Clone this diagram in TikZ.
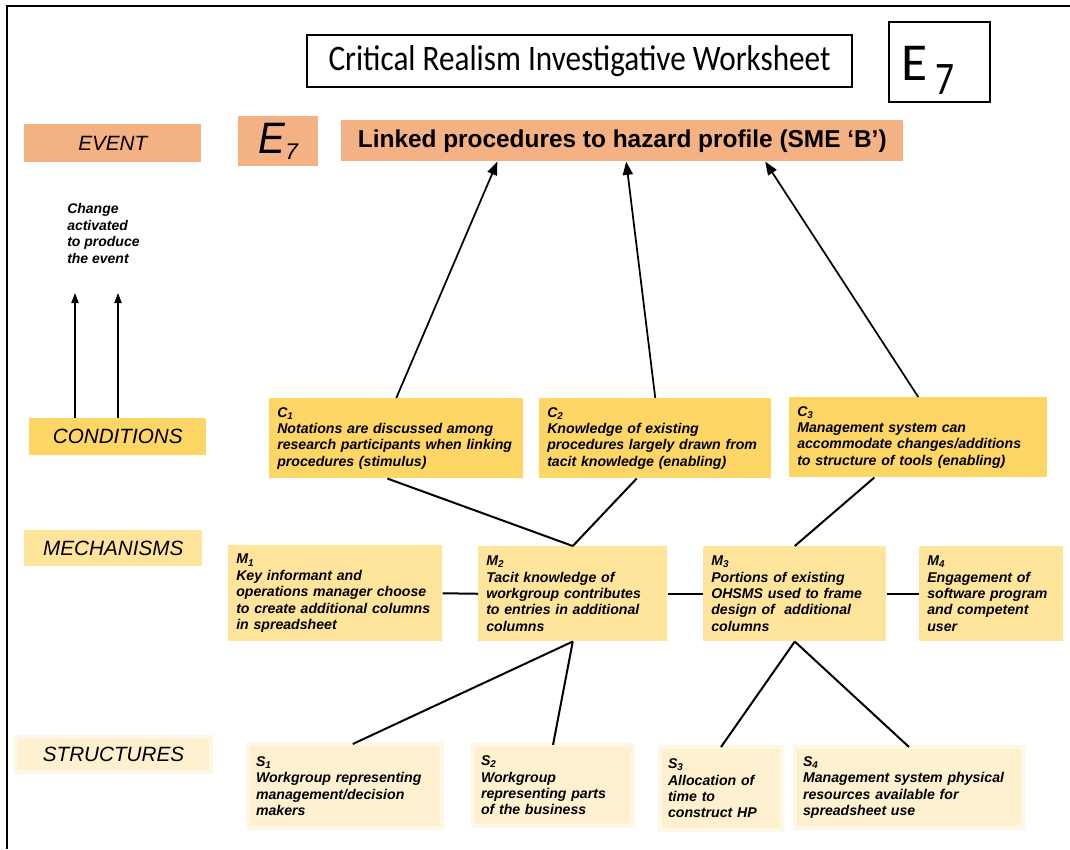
\documentclass[tikz,border=0pt]{standalone}
\usepackage{fontspec}
\usepackage{graphicx}
\setmainfont{Liberation Sans}
\newfontfamily\calib{Carlito}
\usetikzlibrary{calc,arrows.meta}
\definecolor{evorange}{RGB}{244,177,131}
\definecolor{condyel}{RGB}{254,214,102}
\definecolor{mechyel}{RGB}{255,229,155}
\definecolor{strucyel}{RGB}{255,241,208}
\newcommand\bx[7]{%
  \pgfmathsetmacro\bxw{#4*0.75-12}%
  \node[txtbox,fill=#6,minimum width=#4*0.75pt,minimum height=#5*0.75pt,text width=\bxw pt,anchor=north west] (#1) at (#2,#3) {#7};}
\tikzset{
  txtbox/.style={font=\fontsize{10.6}{12.3}\selectfont\bfseries\itshape, align=left, inner xsep=6pt, inner ysep=2pt},
  catlbl/.style={font=\fontsize{15.5}{18}\selectfont\itshape, inner sep=0pt},
  fuzzy/.style={draw=strucyel!55!white, line width=2.5pt, outer sep=0pt},
  conn/.style={line width=1.5pt, black},
  arr/.style={line width=1.3pt, black, -{Triangle[length=10pt,width=7.5pt]}},
  sarr/.style={line width=0.8pt, black, -{Triangle[length=7.5pt,width=5.5pt]}},
  framebox/.style={draw=black, line width=1.5pt, inner sep=0pt, anchor=north west}
}
\begin{document}
\begin{tikzpicture}[x=0.75pt,y=-0.75pt]
\useasboundingbox (0,0) rectangle (1070,849);
\fill[white] (0,0) rectangle (1070,849);
% outer frame
\draw[line width=1.6pt] (7,849) -- (7,6) -- (1070,6);

% title
\node[framebox,minimum width=545*0.75pt,minimum height=52*0.75pt,font=\calib\fontsize{23.4}{26}\selectfont] (title) at (306,34) {\scalebox{1}[1.15]{Critical Realism Investigative Worksheet}\hspace{6pt}};
\node[framebox,inner xsep=9pt,inner ysep=0pt,text width=57pt,text height=44pt,text depth=16pt,align=left,minimum width=101*0.75pt,minimum height=80*0.75pt,font=\calib\fontsize{40}{40}\selectfont] (bige) at (888,21) {E\hspace{6pt}\raisebox{-10pt}{\scalebox{1}[1.25]{\fontsize{28}{28}\selectfont 7}}};

% category labels
\node[catlbl,fill=evorange,minimum width=177*0.75pt,minimum height=38*0.75pt,anchor=north west] (evlbl) at (24,124) {EVENT};
\node[catlbl,fill=condyel,minimum width=177*0.75pt,minimum height=37*0.75pt,anchor=north west] (condlbl) at (29,418) {CONDITIONS};
\node[catlbl,fill=mechyel,minimum width=178*0.75pt,minimum height=36*0.75pt,anchor=north west] (mechlbl) at (24,530) {MECHANISMS};
\node[catlbl,fuzzy,fill=strucyel,minimum width=195*0.75pt,minimum height=35*0.75pt,anchor=north west] (struclbl) at (16,737) {STRUCTURES};

% event
\node[fill=evorange,inner sep=0pt,minimum width=80*0.75pt,minimum height=50*0.75pt,anchor=north west,font=\fontsize{30}{30}\selectfont\itshape] (esmall) at (238,116) {\scalebox{1}[1.1]{E}\raisebox{-5pt}{\fontsize{17}{17}\selectfont 7}\hspace{7pt}};
\node[fill=evorange,inner sep=0pt,minimum width=562*0.75pt,minimum height=41*0.75pt,anchor=north west,font=\fontsize{18.3}{20}\selectfont\bfseries] (ev) at (341,120) {Linked procedures to hazard profile (SME ‘B’)\hspace{5pt}};

% change note
\node[anchor=north west,inner sep=0pt,align=left,font=\fontsize{10.5}{12.5}\selectfont\bfseries\itshape] (note) at (67,203) {Change\\activated\\to produce\\the event};
\coordinate (up1) at (75,293);
\coordinate (up2) at (118,293);
\draw[sarr] (condlbl.north -| up1) -- (up1);
\draw[sarr] (condlbl.north -| up2) -- (up2);

% conditions
\bx{c1}{269}{398}{254}{80}{condyel}{C\textsubscript{1}\\Notations are discussed among\\research participants when linking\\procedures (stimulus)}
\bx{c2}{539}{398}{232}{80}{condyel}{C\textsubscript{2}\\Knowledge of existing\\procedures largely drawn from\\tacit knowledge (enabling)}
\bx{c3}{789}{397}{258}{80}{condyel}{C\textsubscript{3}\\Management system can\\accommodate changes/additions\\to structure of tools (enabling)}

% mechanisms
\bx{m1}{228}{545}{214}{96}{mechyel}{M\textsubscript{1}\\Key informant and\\operations manager choose\\to create additional columns\\in spreadsheet}
\bx{m2}{478}{546}{189}{95}{mechyel}{M\textsubscript{2}\\Tacit knowledge of\\workgroup contributes\\to entries in additional\\columns}
\bx{m3}{703}{546}{183}{95}{mechyel}{M\textsubscript{3}\\Portions of existing\\OHSMS used to frame\\design of \ additional\\columns}
\bx{m4}{919}{546}{144}{95}{mechyel}{M\textsubscript{4}\\Engagement of\\software program\\and competent\\user}

% structures
\bx{s1}{248}{744}{194}{84}{strucyel,fuzzy}{S\textsubscript{1}\\Workgroup representing\\management/decision\\makers}
\bx{s2}{473}{745}{160}{81}{strucyel,fuzzy}{S\textsubscript{2}\\Workgroup\\representing parts\\of the business}
\bx{s3}{660}{747}{122}{83}{strucyel,fuzzy}{S\textsubscript{3}\\Allocation of\\time to\\construct HP}
\bx{s4}{795}{747}{228}{81}{strucyel,fuzzy}{S\textsubscript{4}\\Management system physical\\resources available for\\spreadsheet use}

% arrows conditions -> event
\draw[arr] (c1.north) -- ($(ev.south west)!0.278!(ev.south east)$);
\draw[arr] (c2.north) -- ($(ev.south west)!0.507!(ev.south east)$);
\draw[arr] (c3.north) -- ($(ev.south west)!0.754!(ev.south east)$);

% conditions -> mechanisms
\draw[conn] ($(c1.south west)!0.465!(c1.south east)$) -- (m2.north);
\draw[conn] ($(c2.south west)!0.42!(c2.south east)$) -- (m2.north);
\draw[conn] ($(c3.south west)!0.33!(c3.south east)$) -- (m3.north);

% mechanisms chain
\draw[conn] (m1.east) -- (m2.west);
\draw[conn] (m2.east) -- (m3.west);
\draw[conn] (m3.east) -- (m4.west);

% mechanisms -> structures
\draw[conn] (m2.south) -- ($(s1.north west)!0.54!(s1.north east)$);
\draw[conn] (m2.south) -- (s2.north);
\draw[conn] (m3.south) -- (s3.north);
\draw[conn] (m3.south) -- ($(s4.north west)!0.5!(s4.north east)$);
\end{tikzpicture}
\end{document}
